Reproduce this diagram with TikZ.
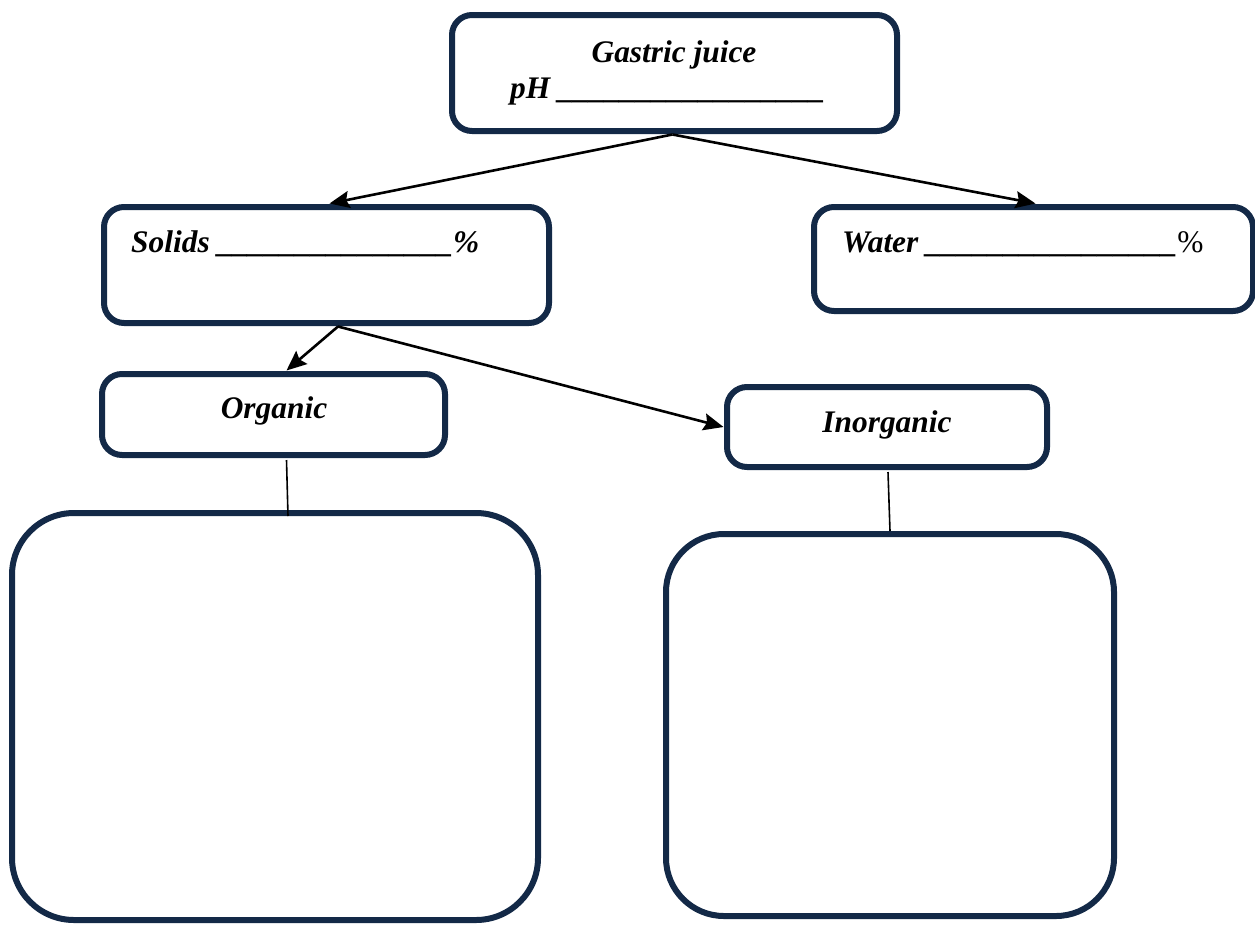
\documentclass[tikz,border=0pt]{standalone}
\usepackage{fontspec}
\setmainfont{Liberation Serif}
\usetikzlibrary{arrows.meta}
\definecolor{boxnavy}{RGB}{19,41,71}
\begin{document}
\begin{tikzpicture}[x=1pt,y=-1pt,
  card/.style={draw=boxnavy,line width=6pt,rounded corners=20pt,fill=white,inner sep=0pt},
  bigcard/.style={card,rounded corners=62pt},
  lbl/.style={inner sep=0pt,anchor=base west,font=\fontsize{31.4}{36}\selectfont\bfseries\itshape},
  link/.style={line width=2.6pt,-{Stealth[length=20pt,width=17pt,inset=3pt]}},
  stem/.style={line width=1.6pt}]
\useasboundingbox (0,0) rectangle (1255,924);

% boxes
\node[card,minimum width=445pt,minimum height=116pt] (juice) at (674.5,73) {};
\node[card,minimum width=445pt,minimum height=116pt] (solids) at (326.5,265) {};
\node[card,minimum width=439pt,minimum height=104pt] (water) at (1033.5,259) {};
\node[card,minimum width=343pt,minimum height=81pt] (organic) at (273.5,414.5) {};
\node[card,minimum width=320pt,minimum height=80pt] (inorganic) at (887,427) {};
\node[bigcard,minimum width=526pt,minimum height=407pt] (orgbox) at (275,716.5) {};
\node[bigcard,rounded corners=58pt,minimum width=448pt,minimum height=382pt] (inorgbox) at (890,725) {};

% texts
\node[lbl,anchor=base] (t1) at (674,62) {Gastric juice};
\node[lbl] (t2) at (510,98) {pH \_\_\_\_\_\_\_\_\_\_\_\_\_\_\_\_\_};
\node[lbl] (t3) at (131,252) {Solids \_\_\_\_\_\_\_\_\_\_\_\_\_\_\_\%};
\node[lbl] (t4) at (842,252) {Water \_\_\_\_\_\_\_\_\_\_\_\_\_\_\_\_{\upshape\mdseries\%}};
\node[lbl,anchor=base] (t5) at (274,418) {Organic};
\node[lbl,anchor=base] (t6) at (887,432) {Inorganic};

% connectors (shifts are in page units: positive yshift points up)
\coordinate (jfoot) at ([xshift=-2pt,yshift=-0.5pt]juice.south);
\coordinate (sfoot) at ([xshift=11.5pt,yshift=-0.5pt]solids.south);
\draw[link] (jfoot) -- ([xshift=3pt,yshift=0.5pt]solids.north);
\draw[link] (jfoot) -- ([xshift=2pt,yshift=0.5pt]water.north);
\draw[link] (sfoot) -- ([xshift=13pt,yshift=0.5pt]organic.north);
\draw[link] (sfoot) -- ([xshift=-0.5pt]inorganic.west);
\draw[stem] ([xshift=13pt,yshift=-2pt]organic.south) -- ([xshift=13pt,yshift=-6pt]orgbox.north);
\draw[stem] ([xshift=1pt,yshift=-2pt]inorganic.south) -- (inorgbox.north);
\end{tikzpicture}
\end{document}
